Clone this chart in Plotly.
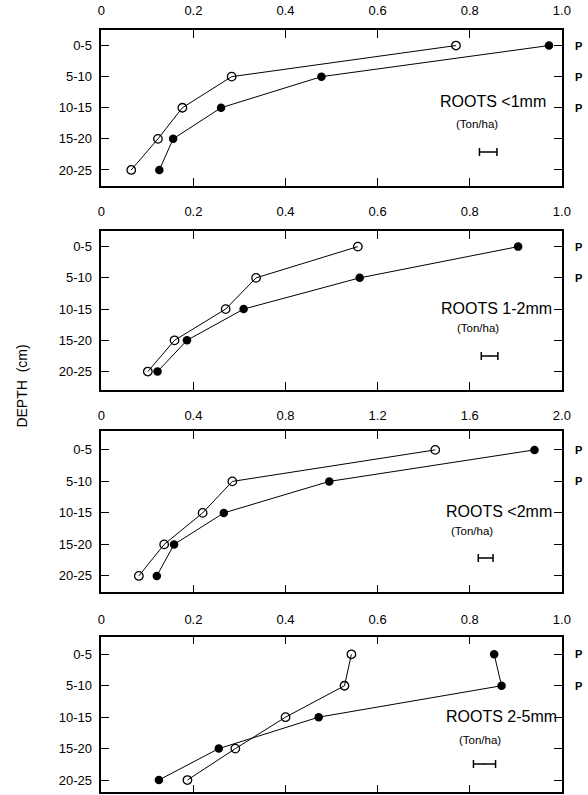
import plotly.graph_objects as go

W, H = 588, 795

depths = ["0-5", "5-10", "10-15", "15-20", "20-25"]

# Panel titles
titles = ["ROOTS &lt;1mm", "ROOTS 1-2mm", "ROOTS &lt;2mm", "ROOTS 2-5mm"]
unit_label = "(Ton/ha)"

# Series values (Ton/ha) per panel: open circles and filled circles
open_lt1 = [0.77, 0.283, 0.176, 0.123, 0.065]
fill_lt1 = [0.972, 0.478, 0.26, 0.156, 0.126]

open_1_2 = [0.557, 0.336, 0.27, 0.159, 0.101]
fill_1_2 = [0.905, 0.561, 0.309, 0.186, 0.122]

open_lt2 = [1.45, 0.569, 0.44, 0.273, 0.163]
fill_lt2 = [1.881, 0.99, 0.532, 0.316, 0.241]

open_2_5 = [0.543, 0.528, 0.40, 0.291, 0.187]
fill_2_5 = [0.853, 0.869, 0.472, 0.255, 0.125]

# LSD bar half-widths (Ton/ha)
lsd_half = [0.019, 0.018, 0.032, 0.024]

# x-axis ticks
ticks_1 = [0, 0.2, 0.4, 0.6, 0.8, 1.0]
ticklabels_1 = ["0", "0.2", "0.4", "0.6", "0.8", "1.0"]
ticks_2 = [0, 0.4, 0.8, 1.2, 1.6, 2.0]
ticklabels_2 = ["0", "0.4", "0.8", "1.2", "1.6", "2.0"]

# significance markers shown at right edge (rows)
p_rows = [[0, 1, 2], [0, 1], [0, 1], [0, 1]]

# ---------------- layout geometry (pixels) ----------------
box_left, box_right = 99.5, 570.5
panels = [
    dict(top=30, bottom=185.5, yr=[4.50, -0.50], xmax=1.0, ticks=(ticks_1, ticklabels_1), stand=8,
         lsd_c=0.84, lsd_y=152, title_xr=556, title_y=102, unit_x=484, unit_y=124,
         data=(open_lt1, fill_lt1)),
    dict(top=231, bottom=390, yr=[4.59, -0.50], xmax=1.0, ticks=(ticks_1, ticklabels_1), stand=8,
         lsd_c=0.843, lsd_y=356, title_xr=562, title_y=308, unit_x=485, unit_y=328,
         data=(open_1_2, fill_1_2)),
    dict(top=431, bottom=592.3, yr=[4.52, -0.60], xmax=2.0, ticks=(ticks_2, ticklabels_2), stand=4,
         lsd_c=1.669, lsd_y=558, title_xr=562, title_y=511, unit_x=479, unit_y=531,
         data=(open_lt2, fill_lt2)),
    dict(top=636.7, bottom=792.3, yr=[4.39, -0.56], xmax=1.0, ticks=(ticks_1, ticklabels_1), stand=6,
         lsd_c=0.832, lsd_y=764, title_xr=568, title_y=716, unit_x=487, unit_y=740,
         data=(open_2_5, fill_2_5)),
]

FONT = "Liberation Sans, Arial, sans-serif"
fig = go.Figure()
layout = dict(
    width=W, height=H, margin=dict(l=0, r=0, t=0, b=0),
    paper_bgcolor="white", plot_bgcolor="white", showlegend=False,
    font=dict(family=FONT, color="black", size=13),
)
annotations = []
ypos = list(range(len(depths)))

for i, p in enumerate(panels):
    n = i + 1
    xa = "x" if n == 1 else f"x{n}"
    ya = "y" if n == 1 else f"y{n}"
    y0, y1 = p["yr"][1], p["yr"][0]
    # convert LSD pixel row to data y
    lsd_ydata = y0 + (p["lsd_y"] - p["top"]) / (p["bottom"] - p["top"]) * (y1 - y0)
    o, f = p["data"]
    fig.add_trace(go.Scatter(
        x=o, y=ypos, xaxis=xa, yaxis=ya, mode="lines+markers",
        line=dict(color="black", width=1),
        marker=dict(symbol="circle-open", size=8.5, color="black", line=dict(width=1.3)),
        cliponaxis=False,
    ))
    fig.add_trace(go.Scatter(
        x=f, y=ypos, xaxis=xa, yaxis=ya, mode="lines+markers",
        line=dict(color="black", width=1),
        marker=dict(symbol="circle", size=8.5, color="black"),
        cliponaxis=False,
    ))
    # LSD bar
    fig.add_trace(go.Scatter(
        x=[p["lsd_c"]], y=[lsd_ydata], xaxis=xa, yaxis=ya, mode="markers",
        marker=dict(size=1, color="black"),
        error_x=dict(type="data", array=[lsd_half[i]], color="black", thickness=1.5, width=4),
    ))
    tv, tt = p["ticks"]
    dom_y = [1 - p["bottom"] / H, 1 - p["top"] / H]
    layout[f"xaxis{'' if n == 1 else n}"] = dict(
        domain=[box_left / W, box_right / W], anchor=ya, side="top",
        range=[0, p["xmax"]], tickvals=tv, ticktext=tt,
        ticks="inside", ticklen=8, tickwidth=1.3, tickcolor="black",
        showline=True, linecolor="black", linewidth=1.5, mirror="ticks",
        showgrid=False, zeroline=False, ticklabelstandoff=p["stand"],
        tickfont=dict(size=13, family=FONT),
    )
    layout[f"yaxis{'' if n == 1 else n}"] = dict(
        domain=dom_y, anchor=xa, range=p["yr"],
        tickvals=ypos, ticktext=depths,
        ticks="inside", ticklen=8, tickwidth=1.3, tickcolor="black",
        showline=True, linecolor="black", linewidth=1.5, mirror="ticks",
        showgrid=False, zeroline=False, ticklabelstandoff=5,
        tickfont=dict(size=13, family=FONT),
    )
    annotations.append(dict(
        text=titles[i], xref="paper", yref="paper",
        x=p["title_xr"] / W, y=1 - p["title_y"] / H, xanchor="right", yanchor="middle",
        showarrow=False, font=dict(size=16, family=FONT),
    ))
    annotations.append(dict(
        text=unit_label, xref="paper", yref="paper",
        x=p["unit_x"] / W, y=1 - p["unit_y"] / H, xanchor="center", yanchor="middle",
        showarrow=False, font=dict(size=11.5, family=FONT),
    ))
    for r in p_rows[i]:
        annotations.append(dict(
            text="<b>P</b>", xref=f"x{'' if n == 1 else n} domain", yref=ya,
            x=1.0, y=r, xanchor="left", xshift=11, yanchor="middle",
            showarrow=False, font=dict(size=11, family=FONT),
        ))

annotations.append(dict(
    text="DEPTH  (cm)", xref="paper", yref="paper", x=18 / W, y=1 - 386 / H,
    textangle=-90, showarrow=False, xanchor="center", yanchor="middle",
    font=dict(size=14, family=FONT),
))
layout["annotations"] = annotations
fig.update_layout(**layout)
fig.write_html("out.html")
